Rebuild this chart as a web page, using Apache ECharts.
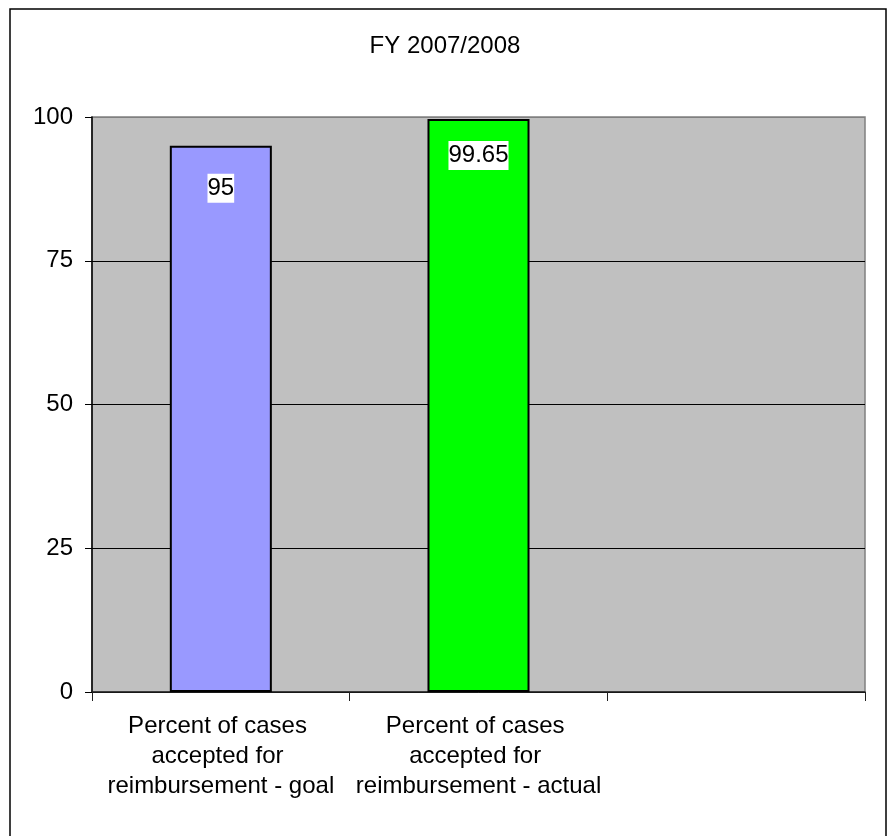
<!DOCTYPE html>
<html>
<head>
<meta charset="utf-8">
<script src="https://cdn.jsdelivr.net/npm/echarts@6/dist/echarts.min.js"></script>
<style>
  html, body { margin: 0; padding: 0; background: #fff; }
  #chart { width: 890px; height: 836px; }
</style>
</head>
<body>
<div id="chart"></div>
<script>
// Chart data
const chartTitle = 'FY 2007/2008';
const categories = [
  'Percent of cases accepted for reimbursement - goal',
  'Percent of cases accepted for reimbursement - actual',
  ''
];
const values = [95, 99.65, null];
const barColors = ['#9999FF', '#00FF00', '#9999FF'];
const yTicks = [0, 25, 50, 75, 100];

// Per-bar gap between the bar top and its value label
const labelGap = [28, 22, 0];

const FONT = '"Liberation Sans", Arial, sans-serif';

const chart = echarts.init(document.getElementById('chart'), null, { renderer: 'canvas' });

const seriesData = values.map((v, i) => ({
  value: v,
  itemStyle: { color: barColors[i] },
  label: { distance: labelGap[i] }
}));

chart.setOption({
  animation: false,
  backgroundColor: '#ffffff',
  textStyle: { fontFamily: FONT },
  title: {
    text: chartTitle,
    left: 'center',
    top: 34,
    padding: 0,
    textStyle: { fontFamily: FONT, fontSize: 24, fontWeight: 'normal', color: '#000', lineHeight: 24 }
  },
  graphic: [{
    type: 'rect',
    shape: { x: 10, y: 9, width: 876, height: 850 },
    style: { fill: 'none', stroke: '#000', lineWidth: 1.5 },
    silent: true,
    z: 100
  }],
  grid: {
    left: 92, top: 117, right: 25, bottom: 144,
    show: true,
    backgroundColor: '#C0C0C0',
    borderColor: '#808080',
    borderWidth: 1.5
  },
  xAxis: {
    type: 'category',
    data: categories,
    boundaryGap: true,
    axisLine: { show: true, lineStyle: { color: '#202020', width: 1.5 } },
    axisTick: { show: true, length: 9, alignWithLabel: false, lineStyle: { color: '#202020', width: 1 } },
    axisLabel: {
      interval: 0,
      margin: 19,
      fontFamily: FONT,
      fontSize: 24,
      lineHeight: 30,
      color: '#000',
      width: 255,
      overflow: 'break',
      align: 'center'
    },
    splitLine: { show: false }
  },
  yAxis: {
    type: 'value',
    min: yTicks[0],
    max: yTicks[yTicks.length - 1],
    interval: yTicks[1] - yTicks[0],
    axisLine: { show: true, lineStyle: { color: '#000', width: 1.5 } },
    axisTick: { show: true, length: 7, lineStyle: { color: '#000', width: 1 } },
    axisLabel: {
      margin: 19,
      fontFamily: FONT,
      fontSize: 24,
      color: '#000',
      formatter: v => (yTicks.includes(v) ? String(v) : '')
    },
    splitLine: {
      show: true,
      lineStyle: { color: ['#000', '#000', '#000', '#000', '#808080'], width: 1 }
    }
  },
  series: [{
    type: 'bar',
    data: seriesData,
    barWidth: '39.6%',
    itemStyle: { borderColor: '#000', borderWidth: 2 },
    label: {
      show: true,
      position: 'insideTop',
      fontFamily: FONT,
      fontSize: 24,
      lineHeight: 29,
      color: '#000',
      backgroundColor: '#ffffff',
      padding: [0, 0, 0, 0],
      formatter: p => (p.value == null ? '' : String(p.value))
    }
  }]
});
</script>
</body>
</html>
